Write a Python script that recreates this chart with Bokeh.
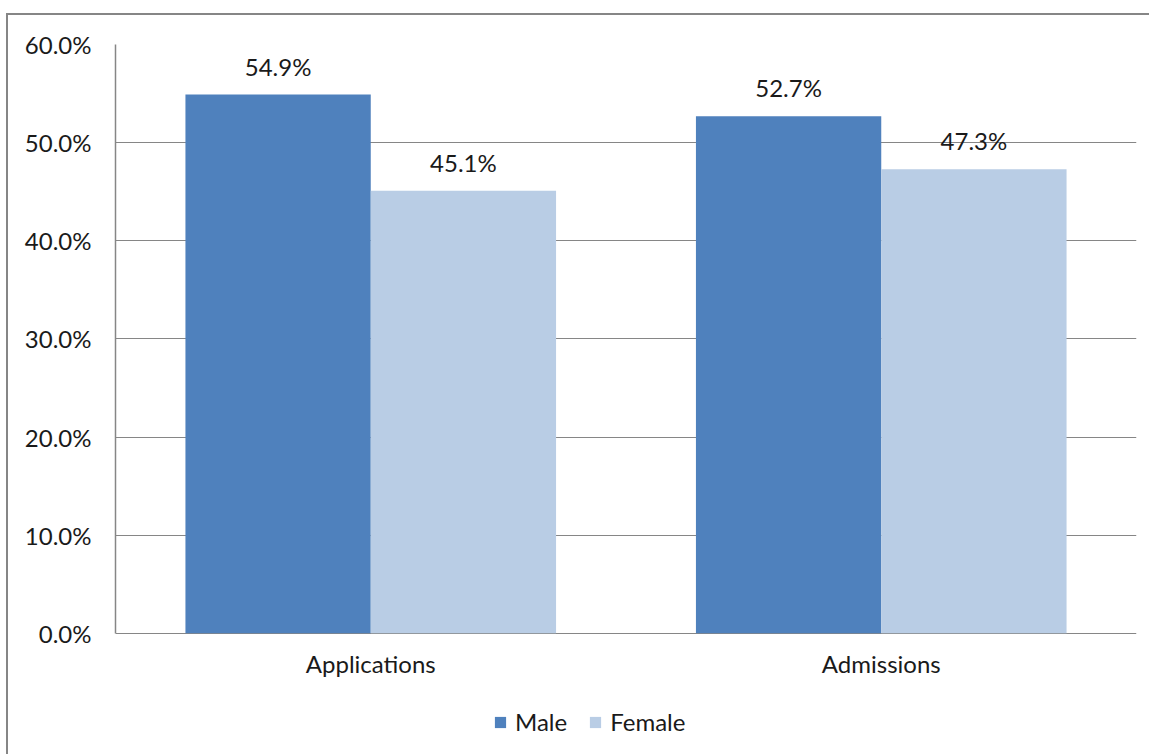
from bokeh.plotting import figure
from bokeh.models import (ColumnDataSource, FactorRange, FixedTicker, PrintfTickFormatter,
                          LabelSet, Legend, LegendItem)
from bokeh.core.properties import value
from bokeh.transform import dodge
from bokeh.embed import file_html
from bokeh.resources import INLINE

categories = ["Applications", "Admissions"]
male = [54.9, 52.7]
female = [45.1, 47.3]
y_ticks = [0, 10, 20, 30, 40, 50, 60]

male_lbl = [f"{v:.1f}%" for v in male]
female_lbl = [f"{v:.1f}%" for v in female]

src = ColumnDataSource(dict(cat=categories, male=male, female=female,
                            male_lbl=male_lbl, female_lbl=female_lbl,
                            base=[0] * len(categories)))

FONT = "Lato"
GRAY = "#868686"
TXT = "#1a1a1a"

# frame spans from the 60% line down to the bottom of the canvas;
# the value axis (0..60) keeps 9.8 px per percentage point
p = figure(x_range=FactorRange(*categories), y_range=(-12.55, 60),
           width=1143, height=741, output_backend="svg", toolbar_location=None,
           x_axis_location=None,
           min_border_left=107, min_border_right=15, min_border_top=29, min_border_bottom=0,
           styles={"margin-top": "13px", "margin-left": "6px",
                   "border-top": f"2px solid {GRAY}", "border-left": f"2px solid {GRAY}"})
p.outline_line_color = None
p.background_fill_color = "white"
p.border_fill_color = "white"

bw = 0.363
r_m = p.vbar(x=dodge("cat", -bw / 2, range=p.x_range), top="male", width=bw, source=src,
             fill_color="#4F81BD", line_color=None)
r_f = p.vbar(x=dodge("cat", bw / 2, range=p.x_range), top="female", width=bw, source=src,
             fill_color="#B9CDE5", line_color=None)

for col, lbl, off in (("male", "male_lbl", -bw / 2), ("female", "female_lbl", bw / 2)):
    p.add_layout(LabelSet(x=dodge("cat", off, range=p.x_range), y=col, text=lbl, source=src,
                          text_align="center", text_baseline="alphabetic", y_offset=19,
                          text_font=value(FONT), text_font_size=value("24px"),
                          text_color=TXT))

# category labels under the zero line
p.text(x="cat", y="base", text="cat", source=src, text_align="center",
       text_baseline="alphabetic", y_offset=30, text_font=value(FONT),
       text_font_size=value("24px"), text_color=TXT)

p.yaxis.ticker = FixedTicker(ticks=y_ticks)
p.yaxis.formatter = PrintfTickFormatter(format="%.1f%%")
p.yaxis.bounds = (0, 60)
ax = p.yaxis[0]
ax.major_tick_out = 0
ax.major_tick_in = 0
ax.minor_tick_out = 0
ax.minor_tick_in = 0
ax.axis_line_color = GRAY
ax.axis_line_width = 1.5
ax.major_label_text_font = FONT
ax.major_label_text_font_size = "24px"
ax.major_label_text_color = TXT
ax.major_label_standoff = 24

p.xgrid.grid_line_color = None
p.ygrid.ticker = FixedTicker(ticks=y_ticks)
p.ygrid.grid_line_color = GRAY
p.ygrid.grid_line_width = 1.2

legend = Legend(items=[LegendItem(label="Male", renderers=[r_m]),
                       LegendItem(label="Female", renderers=[r_f])],
                orientation="horizontal", location=(378, 20),
                label_text_font=FONT, label_text_font_size="24px", label_text_color=TXT,
                glyph_width=14, glyph_height=14, label_standoff=8, spacing=21,
                border_line_color=None, background_fill_alpha=0, padding=0, margin=0)
p.add_layout(legend, "center")

open("out.html", "w").write(file_html(p, INLINE))
